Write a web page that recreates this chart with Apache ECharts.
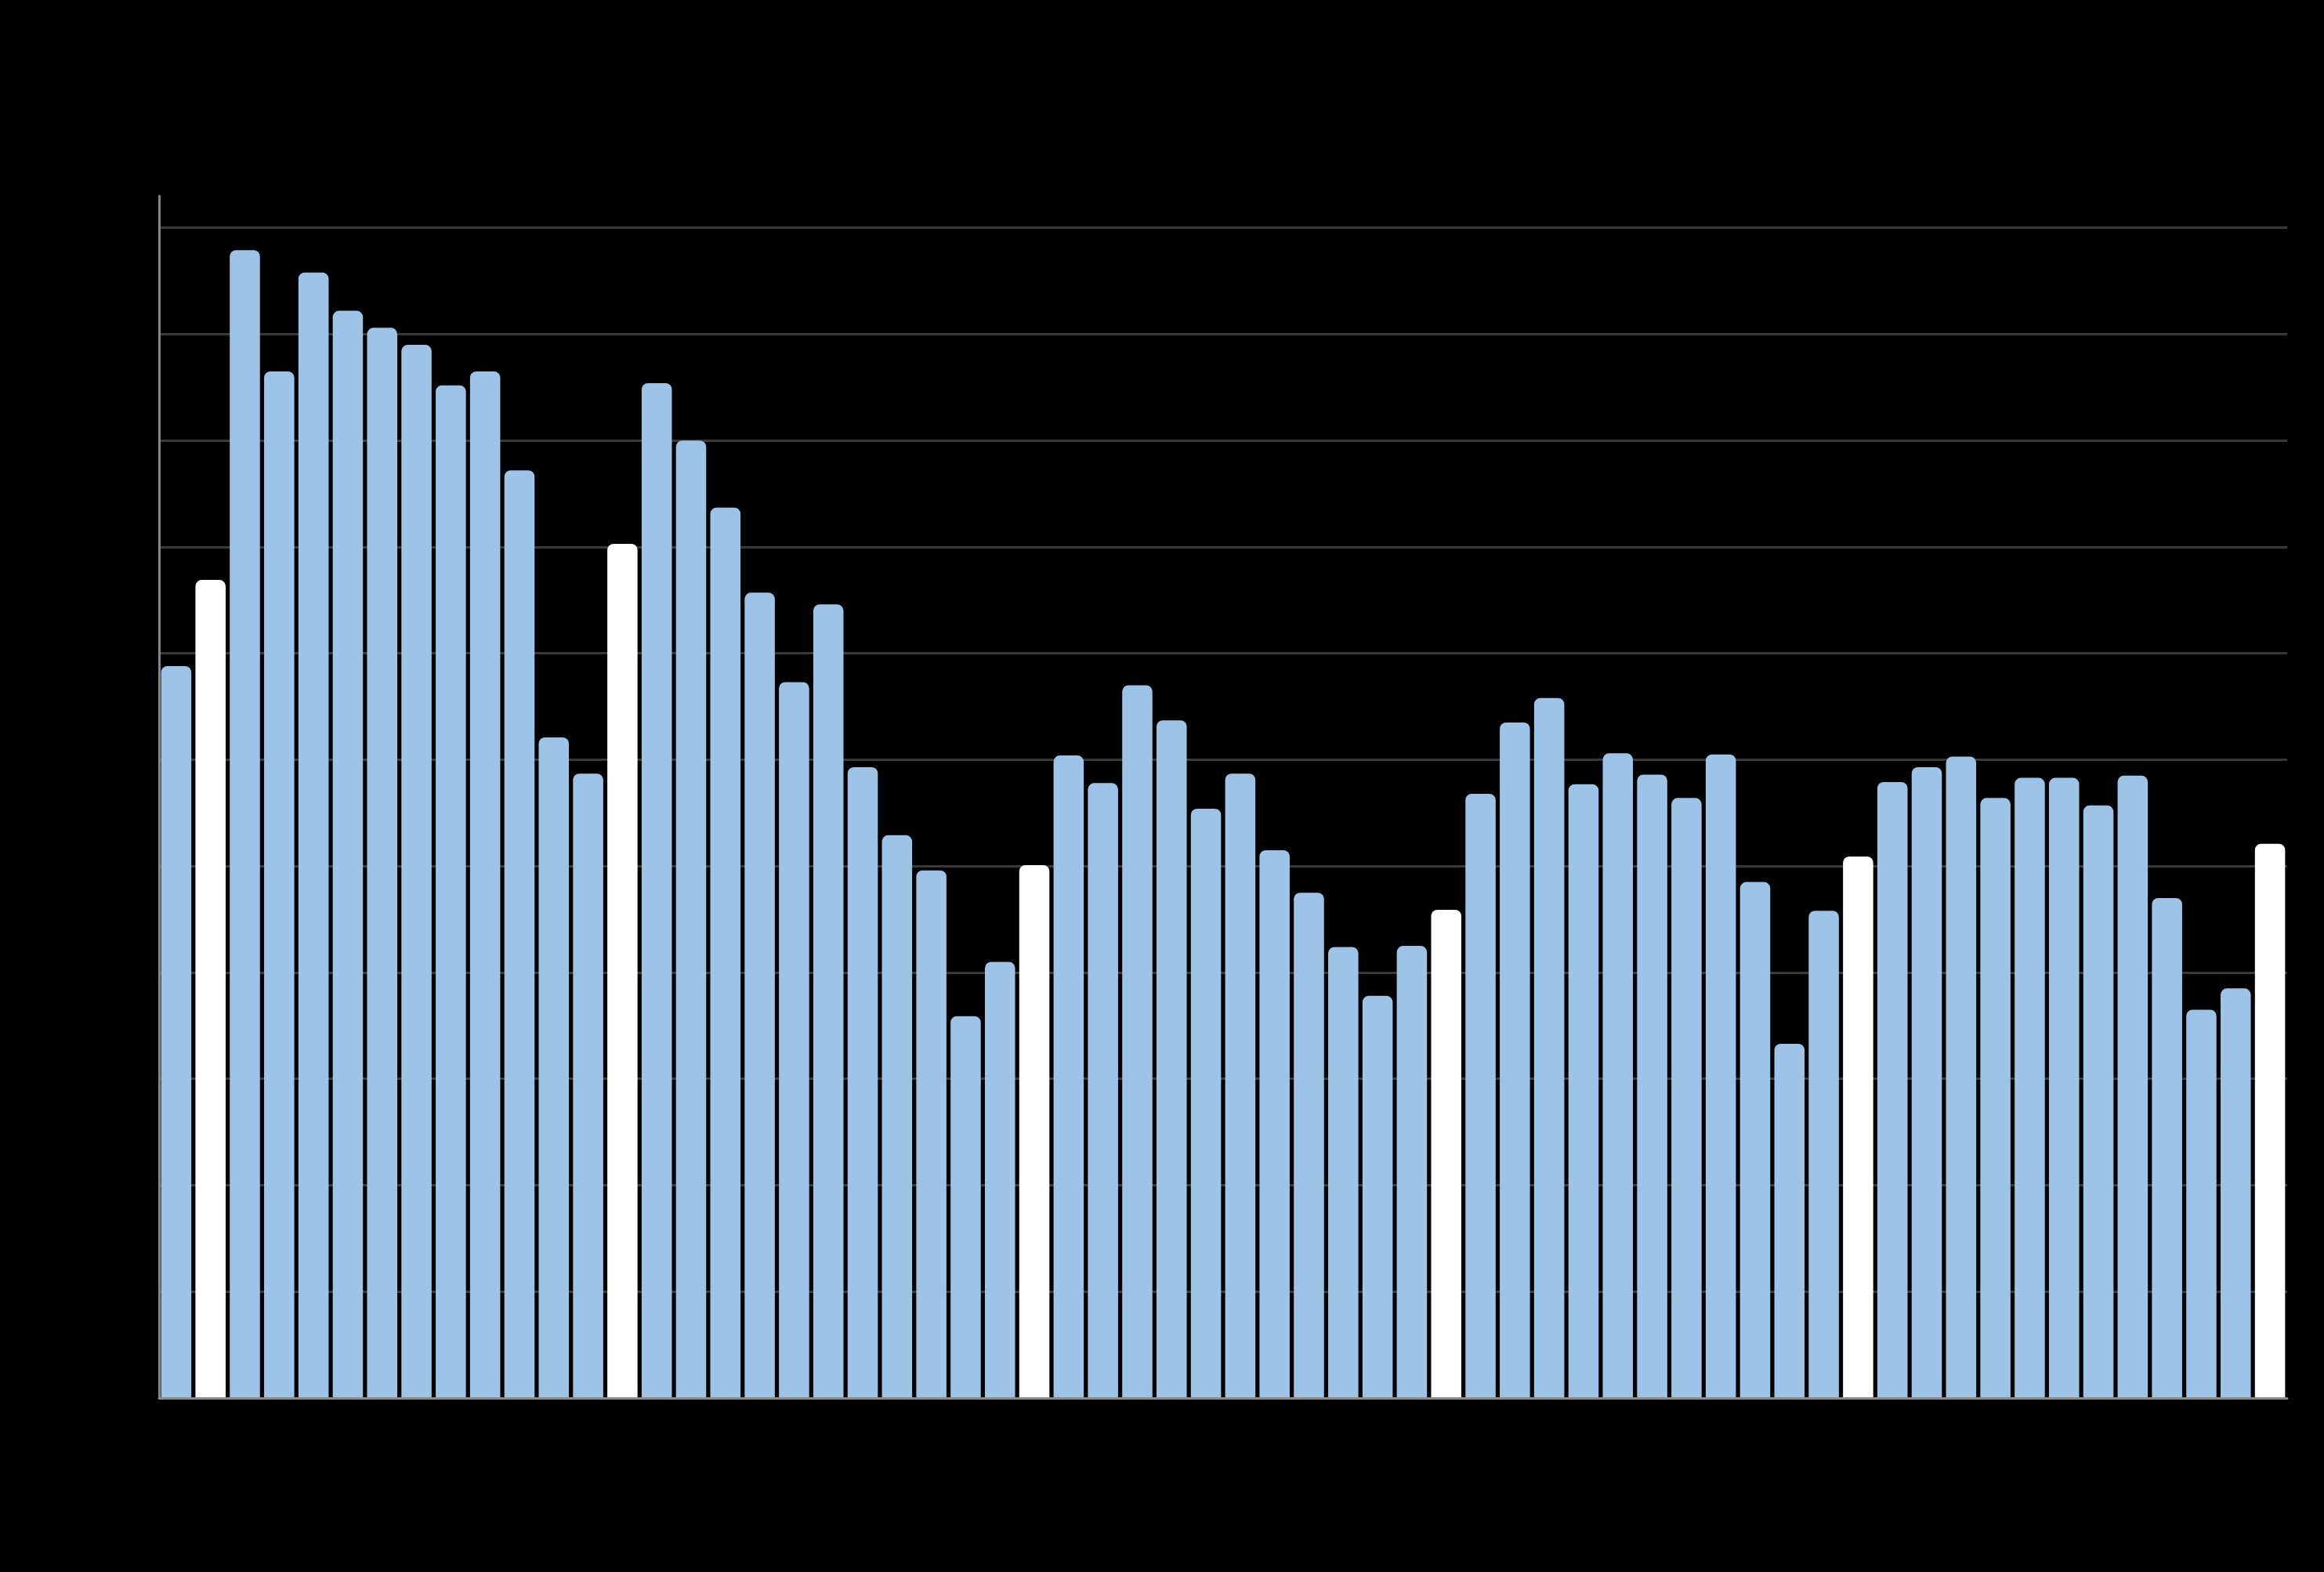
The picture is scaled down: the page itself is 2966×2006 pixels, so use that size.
<!DOCTYPE html>
<html>
<head>
<meta charset="utf-8">
<script src="https://cdn.jsdelivr.net/npm/echarts@6/dist/echarts.min.js"></script>
<style>
  html, body { margin: 0; padding: 0; background: #000; }
  #chart { width: 2966px; height: 2006px; }
</style>
</head>
<body>
<div id="chart"></div>
<script>
const months = ['Nov','Dec','Jan','Feb','Mar','Apr','May','Jun','Jul','Aug','Sep','Oct'];
const categories = [];
for (let i = 0; i < 62; i++) {
  const m = months[i % 12];
  const y = 2009 + Math.floor((i + 10) / 12);
  categories.push(m + ' ' + y);
}
const values = [
  6.88, 7.69, 10.79, 9.65, 10.58, 10.22, 10.06, 9.90, 9.52, 9.65, 8.72, 6.21,
  5.87, 8.03, 9.54, 9.00, 8.37, 7.57, 6.73, 7.46, 5.93, 5.29, 4.96, 3.59,
  4.10, 5.01, 6.04, 5.78, 6.70, 6.37, 5.54, 5.87, 5.15, 4.75, 4.24, 3.78,
  4.25, 4.59, 5.68, 6.35, 6.58, 5.77, 6.06, 5.86, 5.64, 6.05, 4.85, 3.33,
  4.58, 5.09, 5.79, 5.93, 6.03, 5.64, 5.83, 5.83, 5.57, 5.85, 4.70, 3.65,
  3.85, 5.21
];
const yTicks = [0, 1, 2, 3, 4, 5, 6, 7, 8, 9, 10, 11];

const chart = echarts.init(document.getElementById('chart'), null, { renderer: 'canvas' });
chart.setOption({
  backgroundColor: '#000000',
  animation: false,
  grid: { left: 203, right: 47, top: 250, bottom: 222, containLabel: false },
  xAxis: {
    type: 'category',
    data: categories,
    z: 10,
    axisLine: { show: true, lineStyle: { color: '#8a8a8a', width: 3 } },
    axisTick: { show: false },
    axisLabel: { show: true, color: '#000000', fontSize: 18, fontFamily: 'Liberation Sans' },
    splitLine: { show: false }
  },
  yAxis: {
    type: 'value',
    min: yTicks[0],
    max: 11.3,
    interval: 1,
    axisLine: { show: true, lineStyle: { color: '#858585', width: 3 } },
    axisTick: { show: false },
    axisLabel: { show: true, color: '#000000', fontSize: 20, fontFamily: 'Liberation Sans',
      showMaxLabel: false },
    splitLine: { show: true, showMinLine: false, showMaxLine: false,
      lineStyle: { color: '#383838', width: 3 } }
  },
  series: [{
    type: 'bar',
    data: values,
    barWidth: '88%',
    itemStyle: {
      borderRadius: [8, 8, 0, 0],
      color: function (p) {
        return p.name.indexOf('Dec') === 0 ? '#ffffff' : '#9dc3e6';
      }
    }
  }]
});
</script>
</body>
</html>
